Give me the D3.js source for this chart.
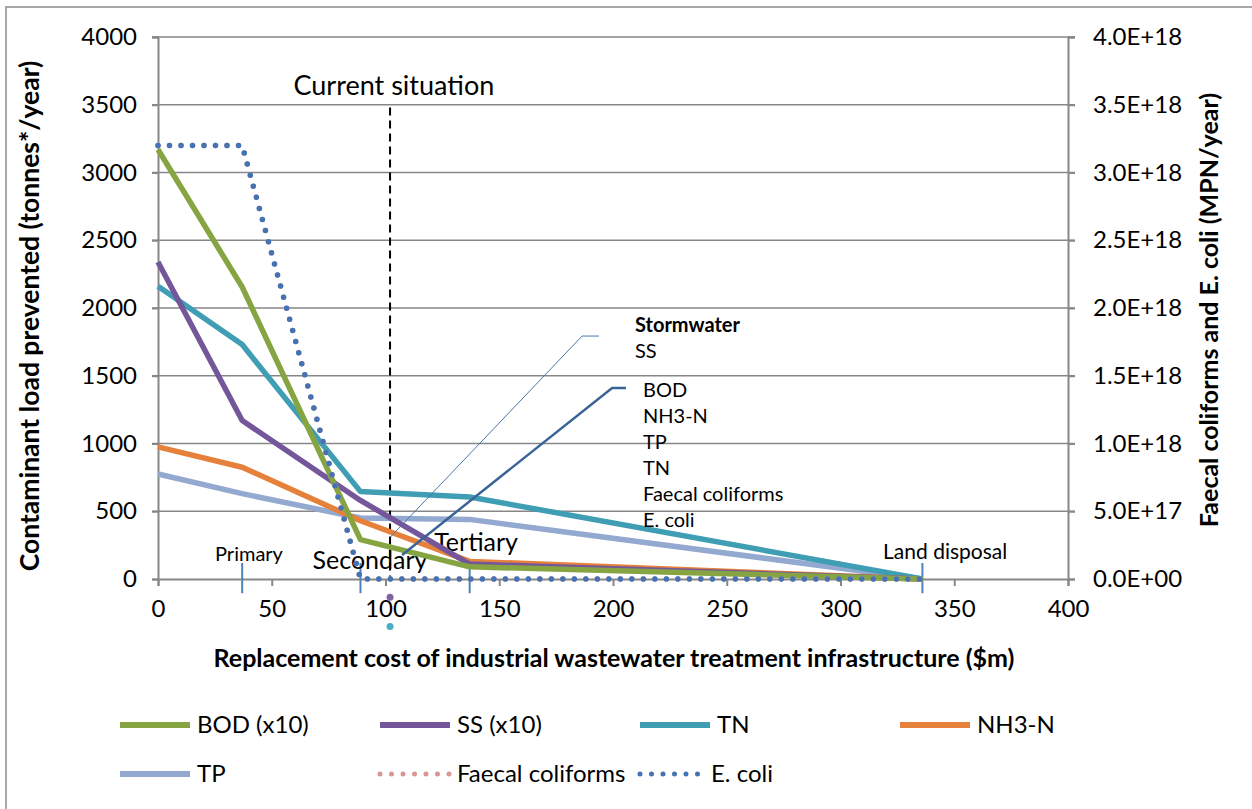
<!DOCTYPE html>
<html>
<head>
<meta charset="utf-8">
<script src="https://cdn.jsdelivr.net/npm/d3@7"></script>
<style>
  body { margin: 0; background: #fff; }
  svg { font-family: Lato, "Liberation Sans", sans-serif; }
</style>
</head>
<body>
<div id="chart"></div>
<script>
// cost of treatment stage ($m) and load prevented at each stage
const costs = [0, 37, 89, 137, 336];
const bod = [3170, 2155, 290, 90, 0];     // x10
const ss = [2340, 1170, 580, 110, 0];     // x10
const tn = [2160, 1730, 645, 605, 0];
const nh3n = [975, 825, 430, 130, 0];
const tp = [775, 630, 450, 440, 0];
const faecal = [3.2e18, 3.2e18, 0, 0, 0];
const ecoli = [3.2e18, 3.2e18, 0, 0, 0];

const xTicks = [0, 50, 100, 150, 200, 250, 300, 350, 400];
const yTicks = [0, 500, 1000, 1500, 2000, 2500, 3000, 3500, 4000];
const y2Ticks = [0, 5e17, 1e18, 1.5e18, 2e18, 2.5e18, 3e18, 3.5e18, 4e18];

const currentCost = 102;
const stormCost = 102;
const stormSS = -135;
const stormTN = -350;

const stages = ["Primary", "Secondary", "Tertiary", "Land disposal"];
const stageCost = [37, 89, 137, 336];
const stormLabels = ["BOD", "NH3-N", "TP", "TN", "Faecal coliforms", "E. coli"];

const W = 1252, H = 809;
const svg = d3.select('#chart').append('svg')
    .attr('width', W)
    .attr('height', H);

svg.append('rect')
    .attr('x', 6).attr('y', 7)
    .attr('width', W + 10).attr('height', H + 10)
    .attr('fill', '#fff')
    .attr('stroke', '#8c8c8c')
    .attr('stroke-width', 1.5);

const x = d3.scaleLinear().domain([0, 400]).range([158, 1068]);
const y = d3.scaleLinear().domain([0, 4000]).range([579, 37]);
const y2 = d3.scaleLinear().domain([0, 4e18]).range([579, 37]);

const grey = '#878787';

// gridlines
svg.append('g').selectAll('line')
    .data(yTicks.slice(1))
    .join('line')
    .attr('x1', x(0) - 6).attr('x2', x(400) + 7)
    .attr('y1', d => y(d)).attr('y2', d => y(d))
    .attr('stroke', grey).attr('stroke-width', 1.6);

const fmtE = d => {
    if (d === 0) return '0.0E+00';
    const e = Math.floor(Math.log10(d));
    const m = d / Math.pow(10, e);
    return m.toFixed(1) + 'E+' + e;
};

const gl = svg.append('g').attr('transform', `translate(${x(0)},0)`)
    .call(d3.axisLeft(y).tickValues(yTicks).tickFormat(d3.format('d')).tickSize(6).tickPadding(15));
const gr = svg.append('g').attr('transform', `translate(${x(400)},0)`)
    .call(d3.axisRight(y2).tickValues(y2Ticks).tickFormat(fmtE).tickSize(7).tickPadding(18));
const gb = svg.append('g').attr('transform', `translate(0,${y(0)})`)
    .call(d3.axisBottom(x).tickValues(xTicks).tickSize(7).tickPadding(14));

[gl, gr, gb].forEach(g => {
    g.select('.domain').attr('stroke', grey).attr('stroke-width', 2);
    g.selectAll('.tick line').attr('stroke', grey).attr('stroke-width', 2);
    g.selectAll('.tick text')
        .attr('fill', '#000')
        .style('font-family', 'Lato')
        .style('font-size', '24px');
});

// axis titles
svg.append('text')
    .attr('transform', `translate(39,${(y(0) + y(4000)) / 2 + 8}) rotate(-90)`)
    .attr('text-anchor', 'middle')
    .style('font-size', '26.5px').style('font-weight', 'bold')
    .text('Contaminant load prevented (tonnes*/year)');
svg.append('text')
    .attr('transform', `translate(1218,${(y(0) + y(4000)) / 2 + 2}) rotate(-90)`)
    .attr('text-anchor', 'middle')
    .style('font-size', '25px').style('font-weight', 'bold')
    .text('Faecal coliforms and E. coli (MPN/year)');
svg.append('text')
    .attr('x', 614).attr('y', 667)
    .attr('text-anchor', 'middle')
    .style('font-size', '25px').style('font-weight', 'bold')
    .text('Replacement cost of industrial wastewater treatment infrastructure ($m)');

// current situation marker
svg.append('line')
    .attr('x1', x(currentCost)).attr('x2', x(currentCost))
    .attr('y1', y(3480)).attr('y2', y(0))
    .attr('stroke', '#000').attr('stroke-width', 2)
    .attr('stroke-dasharray', '8,5');
svg.append('text')
    .attr('x', x(103.7)).attr('y', 95)
    .attr('text-anchor', 'middle')
    .style('font-size', '27px')
    .text('Current situation');

// stage markers
svg.append('g').selectAll('line')
    .data(stageCost)
    .join('line')
    .attr('x1', d => x(d)).attr('x2', d => x(d))
    .attr('y1', y(118)).attr('y2', y(-105))
    .attr('stroke', '#4F81BD').attr('stroke-width', 2);

const stageLab = [
    { t: stages[0], cx: 40, cy: 130, s: 20 },
    { t: stages[1], cx: 93.2, cy: 75, s: 25 },
    { t: stages[2], cx: 139.8, cy: 205, s: 25 },
    { t: stages[3], cx: 346, cy: 145, s: 21 }
];
svg.append('g').selectAll('text')
    .data(stageLab)
    .join('text')
    .attr('x', d => x(d.cx)).attr('y', d => y(d.cy))
    .attr('text-anchor', 'middle')
    .style('font-size', d => d.s + 'px')
    .text(d => d.t);

// series
const line = d3.line()
    .x((d, i) => x(costs[i]))
    .y(d => y(d));
const line2 = d3.line()
    .x((d, i) => x(costs[i]))
    .y(d => y2(d));

const series = [
    { name: 'BOD (x10)', values: bod, color: '#86A542' },
    { name: 'SS (x10)', values: ss, color: '#74579A' },
    { name: 'TN', values: tn, color: '#3F9DB4' },
    { name: 'NH3-N', values: nh3n, color: '#E5813A' },
    { name: 'TP', values: tp, color: '#93A9D0' }
];
const dotted = [
    { name: 'Faecal coliforms', values: faecal, color: '#D99694' },
    { name: 'E. coli', values: ecoli, color: '#4372B5' }
];

// draw order as in the original: TP under, BOD over
const order = [4, 3, 2, 1, 0];
order.forEach(i => {
    svg.append('path')
        .datum(series[i].values)
        .attr('d', line)
        .attr('fill', 'none')
        .attr('stroke', series[i].color)
        .attr('stroke-width', 5.5)
        .attr('stroke-linejoin', 'round');
});
dotted.forEach(s => {
    svg.append('path')
        .datum(s.values)
        .attr('d', line2)
        .attr('fill', 'none')
        .attr('stroke', s.color)
        .attr('stroke-width', 5.5)
        .attr('stroke-linecap', 'round')
        .attr('stroke-dasharray', '0,11.5');
});

// stormwater points
svg.append('circle')
    .attr('cx', x(stormCost)).attr('cy', y(stormSS)).attr('r', 3.5)
    .attr('fill', '#8064A2');
svg.append('circle')
    .attr('cx', x(stormCost)).attr('cy', y(stormTN)).attr('r', 3.5)
    .attr('fill', '#4BACC6');

// stormwater callouts
const callThin = [[102.2, 310], [186.4, 1793], [193.8, 1793]];
const callThick = [[107.3, 177], [199.6, 1410], [205.7, 1410]];
const cl = d3.line().x(d => x(d[0])).y(d => y(d[1]));
svg.append('path').datum(callThin).attr('d', cl)
    .attr('fill', 'none').attr('stroke', '#4A77AB').attr('stroke-width', 1);
svg.append('path').datum(callThick).attr('d', cl)
    .attr('fill', 'none').attr('stroke', '#3A6496').attr('stroke-width', 2.5);

svg.append('text').attr('x', 635).attr('y', 332)
    .style('font-size', '20px').style('font-weight', 'bold').text('Stormwater');
svg.append('text').attr('x', 635).attr('y', 358)
    .style('font-size', '20px').text('SS');
svg.append('g').selectAll('text')
    .data(stormLabels)
    .join('text')
    .attr('x', 643).attr('y', (d, i) => 397 + i * 26)
    .style('font-size', '20px')
    .text(d => d);

// legend
const legendItems = series.concat(dotted);
const lg = svg.append('g').selectAll('g')
    .data(legendItems)
    .join('g')
    .attr('transform', (d, i) => `translate(${120 + (i % 4) * 260},${725 + Math.floor(i / 4) * 49})`);
lg.append('line')
    .attr('x1', 0)
    .attr('x2', d => d.name === 'E. coli' ? 62 : 70)
    .attr('stroke', d => d.color)
    .attr('stroke-width', d => dotted.includes(d) ? 5 : 6)
    .attr('stroke-linecap', d => dotted.includes(d) ? 'round' : 'butt')
    .attr('stroke-dasharray', d => dotted.includes(d) ? '0,11.5' : null);
lg.append('text')
    .attr('x', d => d.name === 'E. coli' ? 71 : 77)
    .attr('y', 8)
    .style('font-size', '24px')
    .text(d => d.name);
</script>
</body>
</html>
